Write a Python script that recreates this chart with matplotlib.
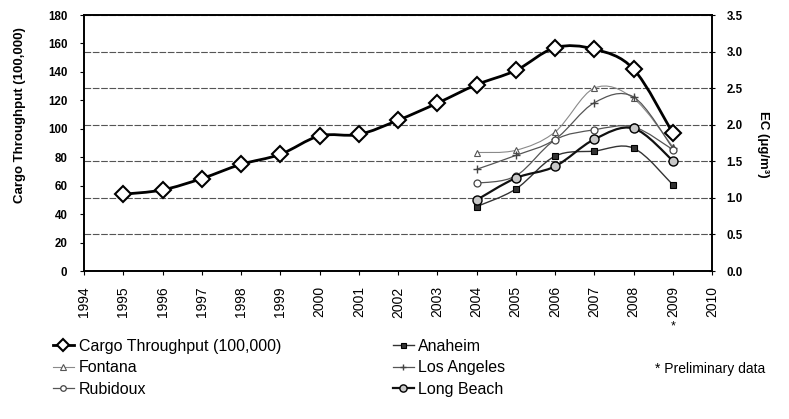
import numpy as np
import matplotlib
matplotlib.use("Agg")
import matplotlib.pyplot as plt
from matplotlib.path import Path
from matplotlib.patches import PathPatch
from matplotlib.lines import Line2D
from matplotlib.ticker import FormatStrFormatter

plt.rcParams['font.family'] = ['Liberation Sans', 'DejaVu Sans']

# data
cargo_years = list(range(1995, 2010))
cargo = [54, 57, 65, 75, 82, 95, 96, 106, 118, 131, 141, 157, 156, 142, 97]

ec_years = list(range(2004, 2010))
anaheim = [0.88, 1.12, 1.57, 1.64, 1.68, 1.18]
fontana = [1.62, 1.65, 1.90, 2.50, 2.36, 1.70]
los_angeles = [1.39, 1.58, 1.80, 2.30, 2.38, 1.68]
rubidoux = [1.20, 1.30, 1.79, 1.93, 1.97, 1.66]
long_beach = [0.97, 1.27, 1.43, 1.80, 1.95, 1.51]

year_ticks = list(range(1994, 2011))


def smooth_path(x, y):
    # bezier path through the points (excel style smoothed line)
    x = np.asarray(x, float)
    y = np.asarray(y, float)
    px = np.concatenate([[x[0]], x, [x[-1]]])
    py = np.concatenate([[y[0]], y, [y[-1]]])
    verts = [(x[0], y[0])]
    codes = [Path.MOVETO]
    for i in range(1, len(px) - 2):
        c1 = (px[i] + (px[i + 1] - px[i - 1]) / 6, py[i] + (py[i + 1] - py[i - 1]) / 6)
        c2 = (px[i + 1] - (px[i + 2] - px[i]) / 6, py[i + 1] - (py[i + 2] - py[i]) / 6)
        verts += [c1, c2, (px[i + 1], py[i + 1])]
        codes += [Path.CURVE4] * 3
    return Path(verts, codes)


def draw(ax, x, y, color, lw, marker, ms, mfc, mec, mew):
    ax.add_patch(PathPatch(smooth_path(x, y), fill=False, edgecolor=color, lw=lw, zorder=3))
    ax.plot(x, y, linestyle='none', marker=marker, ms=ms, mfc=mfc, mec=mec, mew=mew, zorder=4)
    return Line2D([], [], color=color, lw=lw, marker=marker, ms=ms * 0.8, mfc=mfc, mec=mec, mew=mew)


fig = plt.figure(figsize=(7.89, 4.19), dpi=100)
ax1 = fig.add_axes([84 / 789, 1 - 271 / 419, 628 / 789, 256 / 419])
ax2 = ax1.twinx()
ax1.set_zorder(ax2.get_zorder() + 1)
ax1.patch.set_visible(False)

h_cargo = draw(ax1, cargo_years, cargo, 'black', 2.0, 'D', 8, 'white', 'black', 1.5)
h_ana = draw(ax2, ec_years, anaheim, '#333333', 1.0, 's', 4.5, '#333333', 'black', 0.8)
h_fon = draw(ax2, ec_years, fontana, '#8a8a8a', 0.8, '^', 5, 'white', '#555555', 0.8)
h_la = draw(ax2, ec_years, los_angeles, '#555555', 0.9, '+', 6, '#444444', '#444444', 1.0)
h_rub = draw(ax2, ec_years, rubidoux, '#555555', 0.9, 'o', 5, 'white', '#444444', 0.9)
h_lb = draw(ax2, ec_years, long_beach, '#111111', 1.6, 'o', 6.5, '#c8c8c8', 'black', 1.0)

ax1.set_xlim(1994, 2010)
ax1.set_ylim(0, 180)
ax2.set_ylim(0, 3.5)
ax1.set_xticks(year_ticks)
ax1.set_xticklabels([str(y) for y in year_ticks], rotation=90, fontsize=10)
ax1.set_yticks(range(0, 181, 20))
ax2.set_yticks(np.arange(0, 3.51, 0.5))
ax2.yaxis.set_major_formatter(FormatStrFormatter('%.1f'))

ax2.grid(axis='y', color='#555555', lw=0.8, linestyle=(0, (6, 1.5)))
ax2.set_axisbelow(True)

for lab in ax1.get_yticklabels() + ax2.get_yticklabels():
    lab.set_fontweight('bold')
    lab.set_fontsize(8.3)

ax1.tick_params(axis='x', direction='out', length=3, pad=8)
ax1.tick_params(axis='y', direction='out', length=3, pad=9)
ax2.tick_params(axis='y', direction='inout', length=5, pad=8)
for a in (ax1, ax2):
    for s in a.spines.values():
        s.set_linewidth(1.2)

fig.text(20 / 789, 1 - 115 / 419, 'Cargo Throughput (100,000)', rotation=90,
         ha='center', va='center', fontsize=9.5, fontweight='bold')
fig.text(763 / 789, 1 - 144 / 419, 'EC (\u03bcg/m\u00b3)', rotation=270,
         ha='center', va='center', fontsize=9.5, fontweight='bold')

ax1.annotate('*', xy=(2009, 0), xycoords=('data', 'axes fraction'),
             xytext=(0, -40), textcoords='offset points', ha='center', va='center', fontsize=9)

fig.legend([h_cargo, h_fon, h_rub, h_ana, h_la, h_lb],
           ['Cargo Throughput (100,000)', 'Fontana', 'Rubidoux', 'Anaheim', 'Los Angeles', 'Long Beach'],
           ncol=2, loc='upper left', bbox_to_anchor=(53 / 789, 1 - 339 / 419),
           frameon=False, fontsize=11.5, handlelength=1.3, handletextpad=0.3,
           columnspacing=7.0, labelspacing=0.4, borderpad=0, borderaxespad=0)

fig.text(655 / 789, 1 - 369 / 419, '* Preliminary data', ha='left', va='center', fontsize=10)

fig.savefig('out.png', dpi=100)
